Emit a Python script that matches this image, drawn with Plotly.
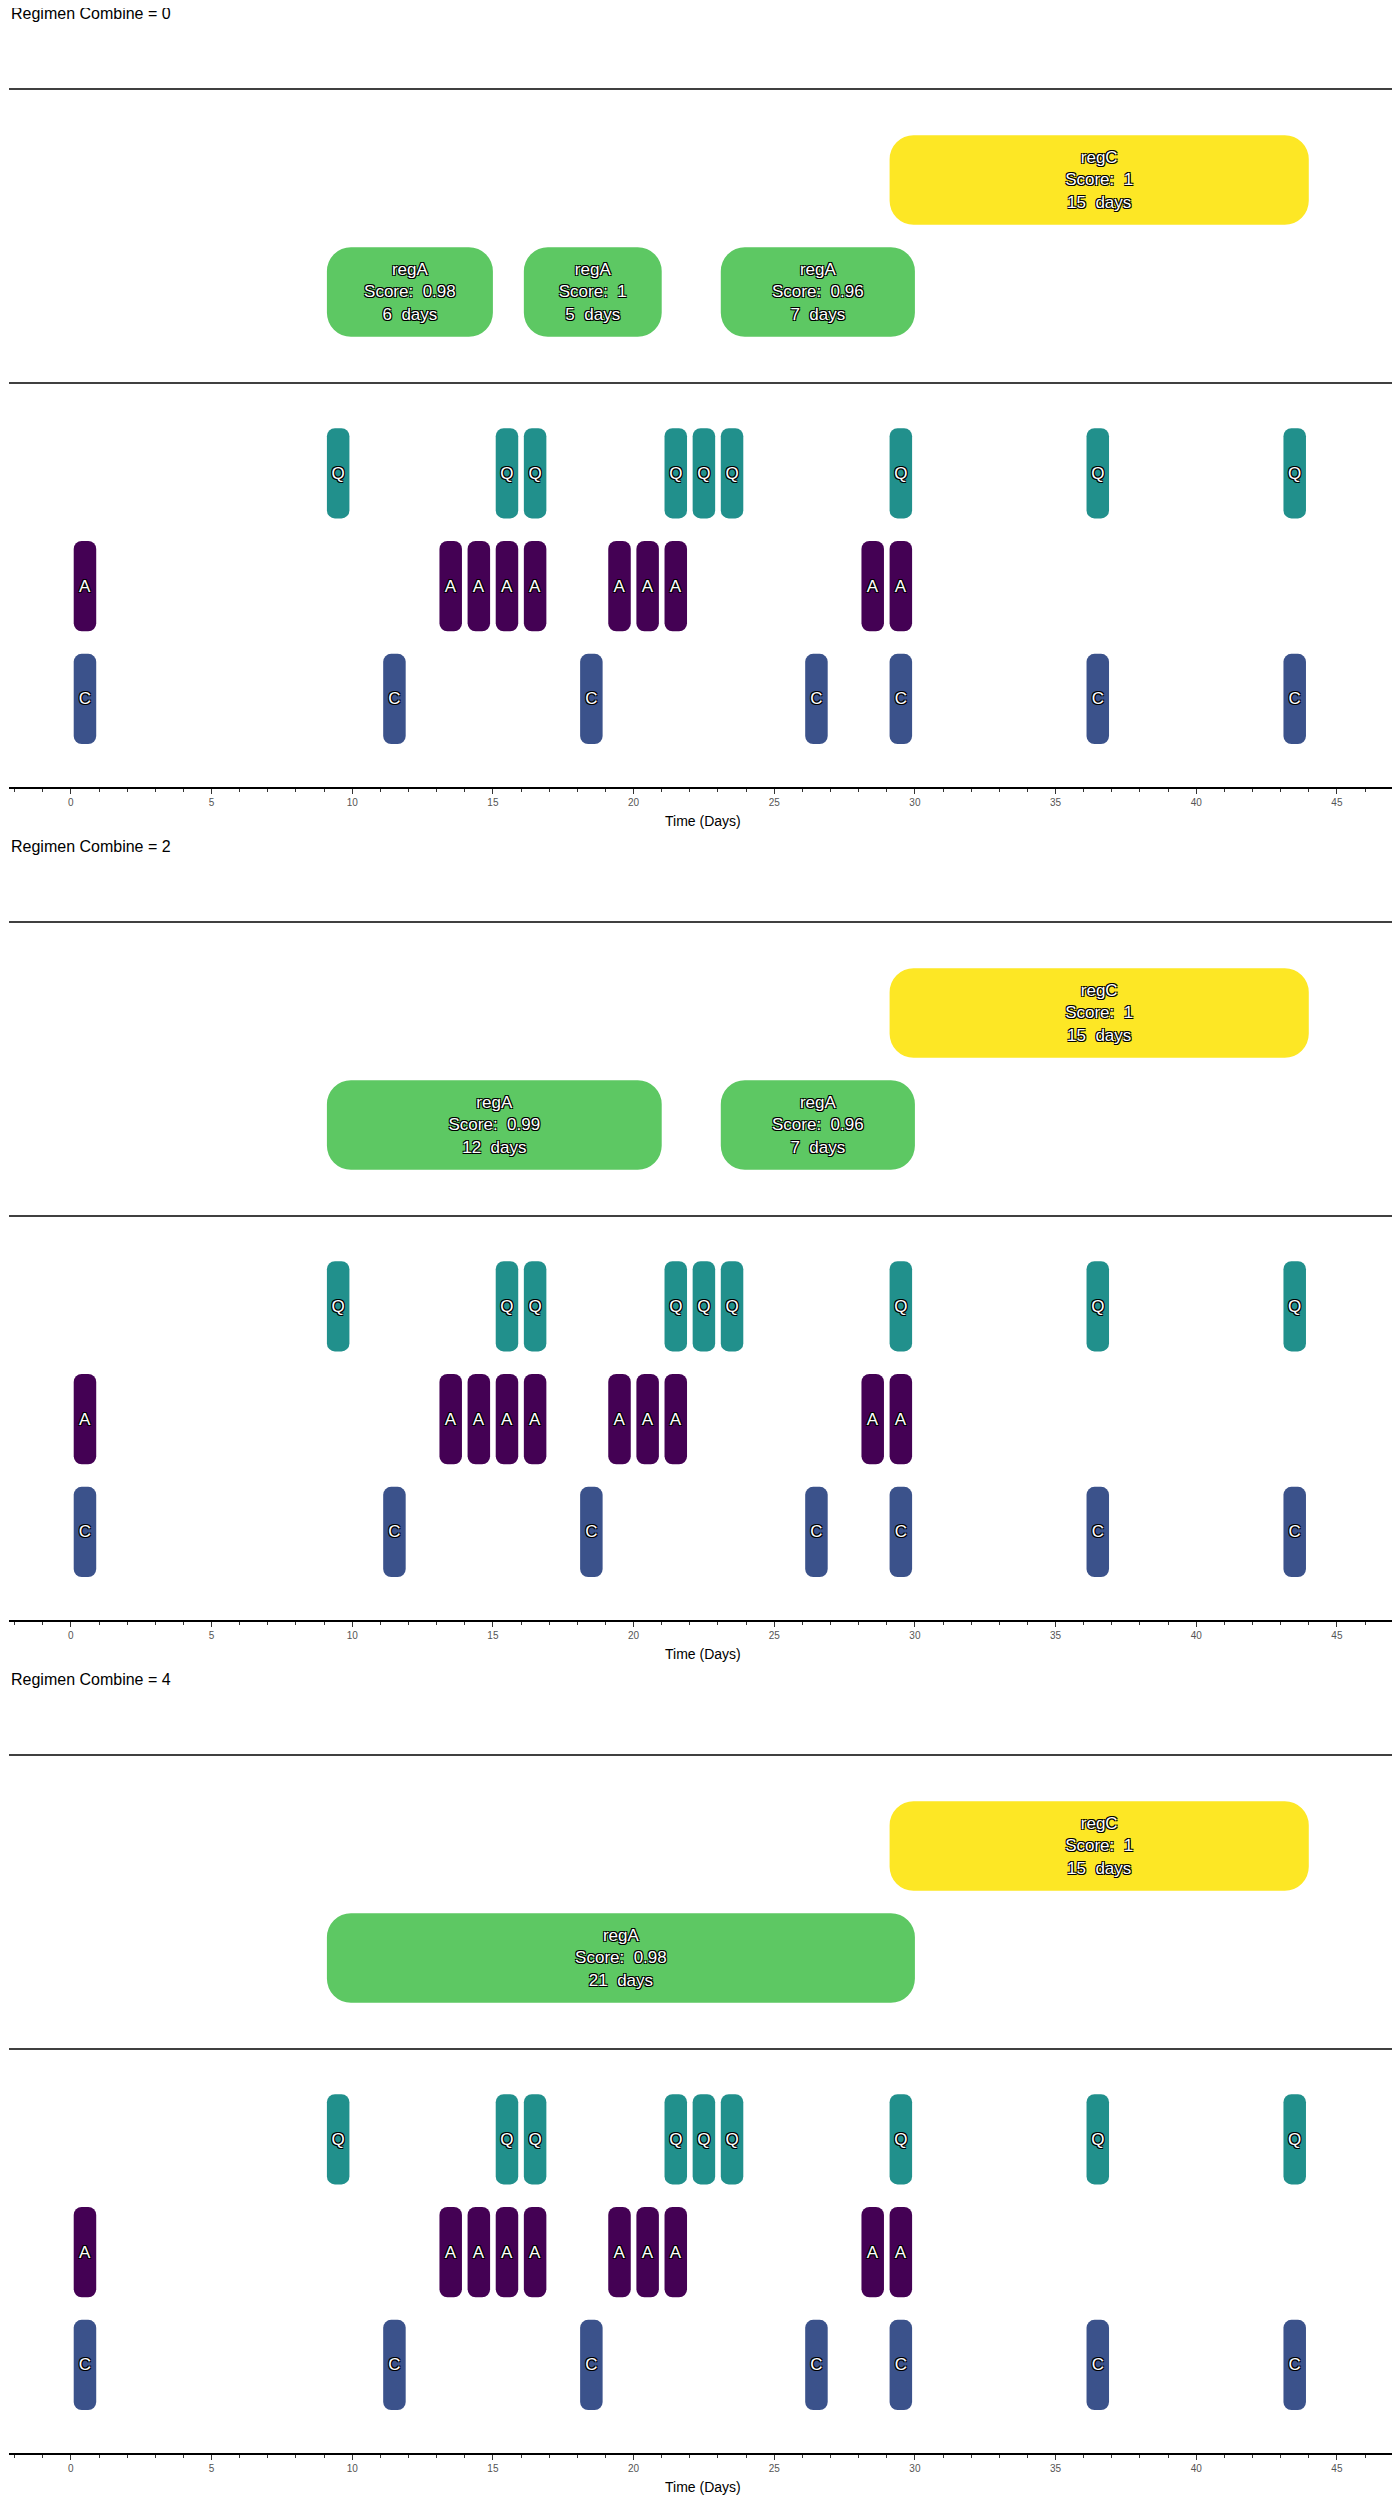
import plotly.graph_objects as go
from plotly.subplots import make_subplots

# drug administration days (same for all panels)
q_days = [9, 15, 16, 21, 22, 23, 29, 36, 43]
a_days = [0, 13, 14, 15, 16, 19, 20, 21, 28, 29]
c_days = [0, 11, 18, 26, 29, 36, 43]

# regimen detections per "Regimen Combine" value: (name, start, end, score)
combine_values = [0, 2, 4]
reg_names = [["regA", "regA", "regA", "regC"],
             ["regA", "regA", "regC"],
             ["regA", "regC"]]
reg_starts = [[9, 16, 23, 29], [9, 23, 29], [9, 29]]
reg_ends = [[15, 21, 30, 44], [21, 30, 44], [30, 44]]
reg_scores = [[0.98, 1, 0.96, 1], [0.99, 0.96, 1], [0.98, 1]]

DRUG_COL = {"Q": "#21908C", "A": "#440154", "C": "#3B528B"}
DRUG_ROW = {"C": 0, "A": 1, "Q": 2}
REG_COL = {"regA": "#5DC863", "regC": "#FDE725"}
REG_ROW = {"regA": 0, "regC": 1}
FONT = "Liberation Sans, Arial, sans-serif"
OUTLINE = "1px 1px 0 #000, -1px -1px 0 #000, 1px -1px 0 #000, -1px 1px 0 #000"

# the page body adds an 8px margin, so the figure is 8px smaller
W, H = 1392, 2492
PANEL = 833
XR = [-2.2, 47.1]


def py(px):
    return 1 - (px - 8) / H


fig = make_subplots(rows=6, cols=1)

for p, cv in enumerate(combine_values):
    off = p * PANEL
    rr, dr = 2 * p + 1, 2 * p + 2

    # regimen boxes
    for name, s, e, sc in zip(reg_names[p], reg_starts[p], reg_ends[p], reg_scores[p]):
        fig.add_bar(y=[REG_ROW[name]], x=[e - s - 0.1], base=[s + 0.1], orientation="h",
                    width=0.8, marker=dict(color=REG_COL[name], cornerradius=24, line_width=0),
                    text=[f"{name}<br>Score:  {sc}<br>{e - s}  days"], textposition="inside",
                    insidetextanchor="middle", textangle=0, constraintext="none",
                    textfont=dict(color="white", size=17, family=FONT, shadow=OUTLINE),
                    hoverinfo="skip", showlegend=False, row=rr, col=1)

    # drug pills
    for drug, days in (("Q", q_days), ("A", a_days), ("C", c_days)):
        fig.add_bar(y=[DRUG_ROW[drug]] * len(days), x=[0.8] * len(days),
                    base=[d + 0.1 for d in days], orientation="h", width=0.8,
                    marker=dict(color=DRUG_COL[drug], cornerradius=8, line_width=0),
                    text=[drug] * len(days), textposition="inside", insidetextanchor="middle",
                    textangle=0, constraintext="none",
                    textfont=dict(color="white", size=17, family=FONT, shadow=OUTLINE),
                    hoverinfo="skip", showlegend=False, row=dr, col=1)

    ry = "yaxis" if rr == 1 else f"yaxis{rr}"
    rx = "xaxis" if rr == 1 else f"xaxis{rr}"
    dy, dx = f"yaxis{dr}", f"xaxis{dr}"
    fig.update_layout({
        ry: dict(domain=[py(off + 383), py(off + 89)], range=[-0.8125, 1.8125], visible=False),
        dy: dict(domain=[py(off + 787), py(off + 383)], range=[-0.78, 2.8], visible=False),
        rx: dict(range=XR, visible=False),
        dx: dict(range=XR, showline=True, linecolor="black", linewidth=1.5, showgrid=False,
                 zeroline=False, ticks="outside", ticklen=5, tickcolor="#333",
                 tick0=0, dtick=5, tickfont=dict(size=10, color="#555", family=FONT),
                 minor=dict(dtick=1, ticks="outside", ticklen=3, tickcolor="#333")),
    })

    for yline in (89, 383):
        fig.add_shape(type="line", xref="paper", yref="paper", x0=0, x1=1,
                      y0=py(off + yline), y1=py(off + yline),
                      line=dict(color="black", width=1.5))

    fig.add_annotation(text=f"Regimen Combine = {cv}", xref="paper", yref="paper",
                       x=0, y=py(off + 13), xanchor="left", yanchor="middle",
                       showarrow=False, font=dict(size=16, color="black", family=FONT))
    fig.add_annotation(text="Time (Days)", xref="paper", yref="paper",
                       x=0.5, y=py(off + 821), xanchor="center", yanchor="middle",
                       showarrow=False, font=dict(size=14, color="black", family=FONT))

fig.update_layout(width=W, height=H, margin=dict(l=1, r=4, t=0, b=0),
                  plot_bgcolor="white", paper_bgcolor="white", barmode="overlay",
                  font=dict(family=FONT))

fig.write_html("out.html")
